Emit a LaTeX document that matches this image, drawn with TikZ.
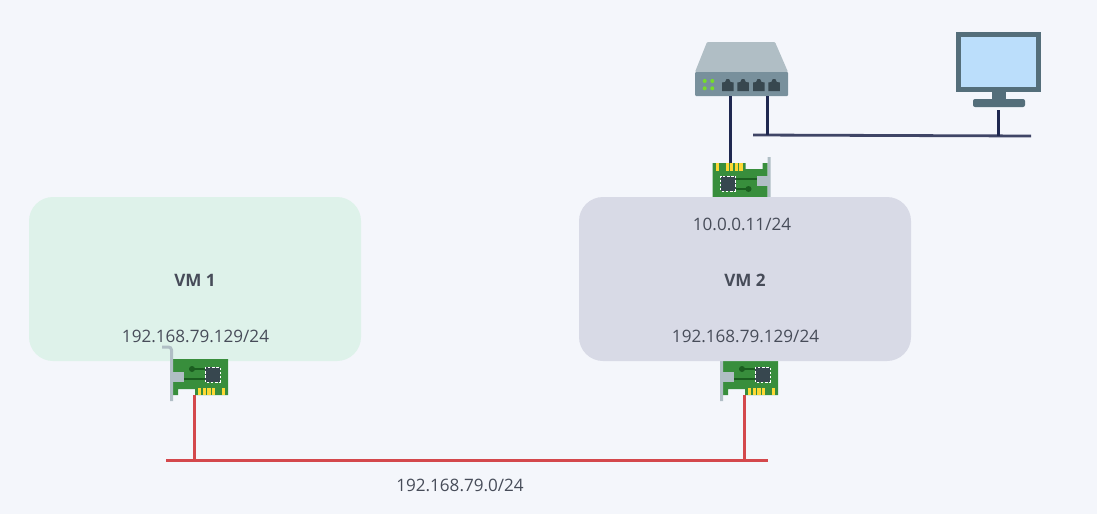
\documentclass[tikz,border=0pt]{standalone}
\usepackage{fontspec}
\setmainfont{Open Sans}
\usetikzlibrary{positioning, calc}
\definecolor{pagebg}{HTML}{F4F6FB}
\definecolor{vmgreen}{HTML}{DEF2EA}
\definecolor{vmgrey}{HTML}{D8DAE6}
\definecolor{labelgrey}{HTML}{474C59}
\definecolor{lanred}{HTML}{D4484C}
\definecolor{wirenavy}{HTML}{1F2850}
\definecolor{wireslate}{HTML}{3F4566}
\definecolor{boardgreen}{HTML}{388E3C}
\definecolor{tracegreen}{HTML}{1B5E20}
\definecolor{padgold}{HTML}{FDD835}
\definecolor{steelgrey}{HTML}{B0BEC5}
\definecolor{chipdark}{HTML}{37474F}
\definecolor{frontgrey}{HTML}{78909C}
\definecolor{screenframe}{HTML}{546E7A}
\definecolor{screenblue}{HTML}{BBDEFB}
\definecolor{ledgreen}{HTML}{76DD2A}
\tikzset{
    nic/.pic={
        \fill [boardgreen] (0,0) -- (55,0) -- (55,36) -- (22,36) -- (22,30) -- (5,30) -- (5,36) -- (0,36) -- cycle;
        \foreach \a/\b in {25/28.4, 29.7/33, 34.3/37.5, 38.8/42, 48.7/51.5}
            \fill [padgold] (\a,28.5) rectangle (\b,36);
        \draw [tracegreen, line width=2.6pt] (11,20) -- (32,20);
        \draw [tracegreen, line width=2.6pt] (19,10) -- (32,10);
        \fill [tracegreen] (19,10) circle (3);
        \fill [chipdark] (32,8) rectangle (47,23);
        \draw [white, line width=.9pt, dash pattern=on 2.4pt off 1.8pt] (32,8) rectangle (47,23);
        \fill [steelgrey] (0,13) rectangle (11,23);
        \draw [steelgrey, line width=3pt, rounded corners=3pt] (-11,-12) -- (-1.5,-12) -- (-1.5,42);
        \coordinate (-pin) at (21,36);
    },
    vmbox/.style={rectangle, rounded corners=24pt, minimum width=332pt, minimum height=164pt, inner sep=0pt},
    txt/.style={text=labelgrey, font=\fontsize{17.1}{20}\selectfont, inner sep=0pt},
    lan/.style={draw=lanred, line width=3pt},
    wire/.style={draw=wirenavy, line width=3pt},
    trunk/.style={draw=wireslate, line width=2.8pt}
}
\begin{document}
\begin{tikzpicture}[x=1pt, y=-1pt]
    \fill [pagebg] (0,0) rectangle (1097,514);
    \useasboundingbox (0,0) rectangle (1097,514);

    % virtual machines and their cards
    \node [vmbox, fill=vmgreen] (vm1) at (195,279) {};
    \pic (nicA) at (173,359) {nic};
    \pic (nicB) at (723,359) {nic};
    \pic (nicC) [rotate=180] at (767.5,199) {nic};
    \node [vmbox, fill=vmgrey] (vm2) at (745,279) {};

    \node [txt, font=\fontsize{17.1}{20}\selectfont\bfseries] (vm1name) at (195,280) {VM 1};
    \node [txt] (vm1addr) at (195.5,336) {192.168.79.129/24};
    \node [txt, font=\fontsize{17.1}{20}\selectfont\bfseries] (vm2name) at (745,280) {VM 2};
    \node [txt] (vm2addr) at (745.5,336) {192.168.79.129/24};
    \node [txt] (vm2top) at (742,224) {10.0.0.11/24};
    \node [txt] (lanaddr) at (460,485) {192.168.79.0/24};

    % switch
    \fill [steelgrey, rounded corners=1pt] (707,42) -- (775,42) -- (788,72) -- (695,72) -- cycle;
    \node [rectangle, fill=frontgrey, rounded corners=1pt, minimum width=93pt, minimum height=24pt, inner sep=0pt] (switch) at (741.5,84) {};
    \foreach \x in {722,737.3,753,768.3}
        \fill [chipdark] (\x,91) -- (\x,82.5) -- ++(3,-.5) -- ++(1.5,-3) -- ++(2.5,0) -- ++(1.5,3) -- ++(3,.5) -- (\x+11.5,91) -- cycle;
    \foreach \x/\y in {704.7/81, 712.3/81, 704.7/88.3, 712.3/88.3}
        \fill [ledgreen] (\x,\y) circle (2);

    % monitor
    \fill [screenframe] (992,92) rectangle (1006,100);
    \fill [screenframe, rounded corners=2pt] (973,107) -- (973,99) -- (1025,99) -- (1025,107) -- cycle;
    \node [rectangle, draw=screenframe, line width=5.5pt, fill=screenblue, minimum width=80pt, minimum height=55pt, inner sep=0pt] (monitor) at (998.5,62) {};

    % wires
    \coordinate (nicCtop) at (730,163);
    \coordinate (trunkL) at (753,135);
    \coordinate (trunkR) at (1031,136);
    \coordinate (trunkM) at (998,135.9);
    \coordinate (lanL) at (166,460);
    \coordinate (lanR) at (768,460);
    \draw [trunk] (trunkL) -- (trunkR);
    \draw [wire] (730,96) -- (nicCtop);
    \draw [wire] (767.5,96) -- (767.5,135);
    \draw [wire] (998,110) -- (trunkM);
    \draw [lan] (lanL) -- (lanR);
    \draw [lan] (nicA-pin) -- (nicA-pin |- lanL);
    \draw [lan] (nicB-pin) -- (nicB-pin |- lanL);
\end{tikzpicture}
\end{document}
